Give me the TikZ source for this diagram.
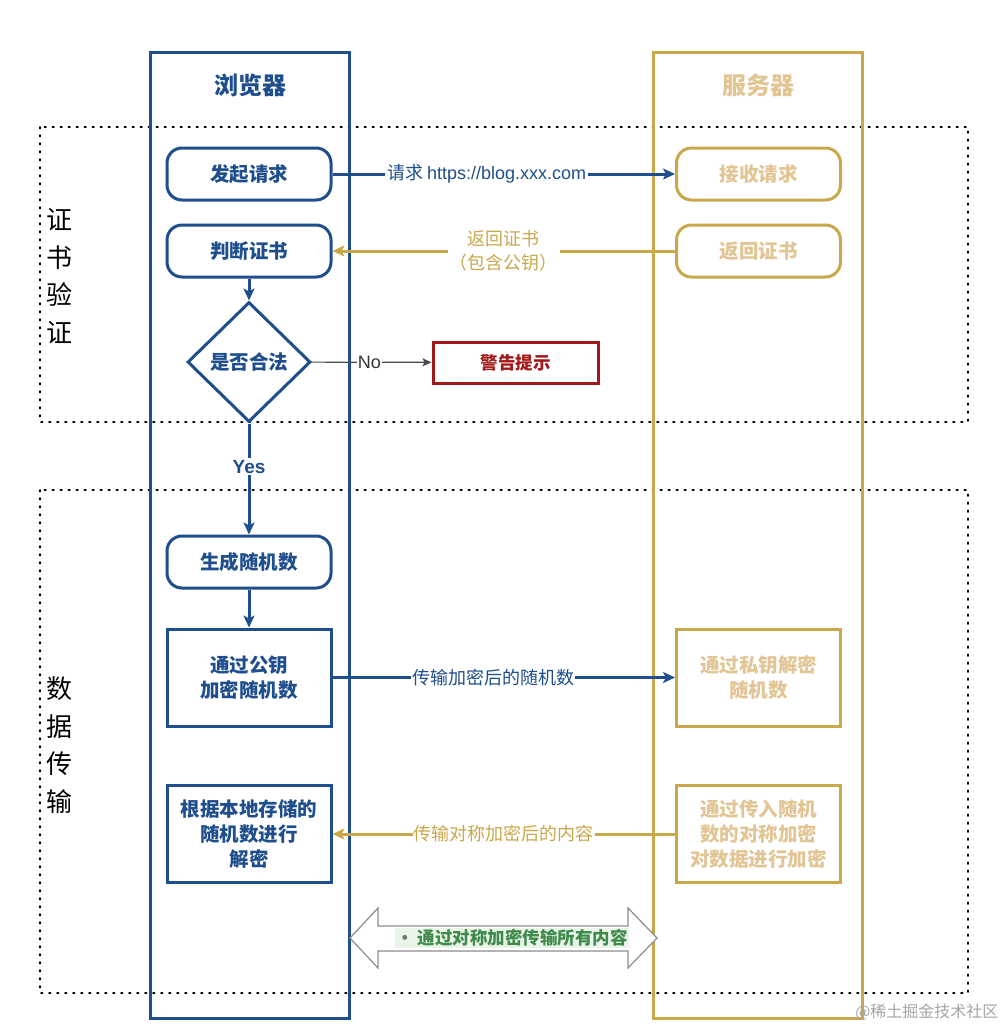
\documentclass[tikz,border=0pt]{standalone}
\usepackage{fontspec}
\setmainfont{Noto Sans CJK SC}
\newfontfamily\latfont{Liberation Sans}
\usetikzlibrary{arrows.meta,shapes.geometric}
\definecolor{bblue}{HTML}{1F4E8C}
\definecolor{sgold}{HTML}{C9A84C}
\definecolor{stext}{HTML}{E2C595}
\definecolor{wred}{HTML}{A31818}
\definecolor{ggreen}{HTML}{3F8A4A}
\definecolor{glight}{HTML}{E8F5E8}
\tikzset{
  lane/.style={line width=3pt},
  zone/.style={line width=1.7pt, dash pattern=on 1.6pt off 6.4pt, line cap=round},
  bstep/.style={draw=bblue, line width=3pt, text=bblue, minimum width=164pt, minimum height=52pt, align=center, font=\fontsize{19.5}{25}\selectfont\bfseries},
  sstep/.style={draw=sgold, line width=3pt, text=stext, minimum width=164pt, minimum height=52pt, align=center, font=\fontsize{19.5}{25}\selectfont\bfseries},
  pill/.style={rounded corners=15pt},
  bigbox/.style={minimum height=97pt},
  barrow/.style={draw=bblue, line width=3pt, -{Stealth[length=12pt,width=11pt,inset=3pt]}},
  garrow/.style={draw=sgold, line width=3pt, -{Stealth[length=12pt,width=11pt,inset=3pt]}},
  lbl/.style={fill=white, inner sep=2pt, font=\fontsize{18}{25}\selectfont},
  vlabel/.style={align=center, font=\fontsize{26}{37.5}\selectfont},
}
\begin{document}
\begin{tikzpicture}[x=1pt,y=-1pt]
\useasboundingbox[fill=white] (0,0) rectangle (1008,1029);
% zones
\draw[zone] (40,127) rectangle (968,422);
\draw[zone] (40,490) rectangle (968,993);
\node[vlabel] (zl1) at (59,276) {证\\书\\验\\证};
\node[vlabel] (zl2) at (59,745) {数\\据\\传\\输};
% lanes
\draw[lane, draw=bblue] (150,52) rectangle (349,1018);
\draw[lane, draw=sgold] (653,52) rectangle (862,1018);
\node[text=bblue, font=\fontsize{24}{28}\selectfont\bfseries] (tb) at (250,85) {浏览器};
\node[text=stext, font=\fontsize{24}{28}\selectfont\bfseries] (ts) at (758,85) {服务器};
% browser nodes
\node[bstep, pill] (req) at (249,174) {发起请求};
\node[bstep, pill] (chk) at (249,251) {判断证书};
\node[draw=bblue, line width=3pt, text=bblue, shape=diamond, minimum width=123pt, minimum height=120pt, inner sep=0pt, font=\fontsize{19.5}{25}\selectfont\bfseries] (legal) at (249,362) {是否合法};
\node[draw=wred, line width=3pt, text=wred, minimum width=165pt, minimum height=41pt, font=\fontsize{17.5}{22}\selectfont\bfseries] (warn) at (515.5,362.5) {警告提示};
\node[bstep, pill] (gen) at (249,562) {生成随机数};
\node[bstep, bigbox] (enc) at (249,677.5) {通过公钥\\加密随机数};
\node[bstep, bigbox] (dec) at (249,834) {根据本地存储的\\随机数进行\\解密};
% server nodes
\node[sstep, pill] (recv) at (758.5,174) {接收请求};
\node[sstep, pill] (ret) at (758.5,251) {返回证书};
\node[sstep, bigbox] (sdec) at (758.5,677.5) {通过私钥解密\\随机数};
\node[sstep, bigbox] (senc) at (758.5,834) {通过传入随机\\数的对称加密\\对数据进行加密};
% connectors
\draw[barrow] (req) -- node[lbl, text=bblue, pos=0.45] (l1) {请求 {\latfont https://blog.xxx.com}} (recv);
\draw[garrow] (ret) -- node[lbl, text=sgold, align=center, pos=0.5, font=\fontsize{18}{24}\selectfont] (l2) {返回证书\\（包含公钥）} (chk);
\draw[draw=bblue, line width=3pt, -{Stealth[length=12pt,width=11pt,inset=3pt]}] (chk) -- (legal);
\draw[draw=black!70, line width=1.2pt, -{Stealth[length=9pt,width=8pt,inset=2pt]}] (legal) -- node[lbl, text=black!80, pos=0.48, inner sep=1pt, font=\latfont\fontsize{18}{22}\selectfont] (lno) {No} (warn);
\draw[barrow] (legal) -- node[lbl, text=bblue, font=\latfont\fontsize{19}{22}\selectfont\bfseries, pos=0.39] (lyes) {Yes} (gen);
\draw[barrow] (gen) -- (enc);
\draw[barrow] (enc) -- node[lbl, text=bblue, pos=0.47, inner sep=1pt] (l3) {传输加密后的随机数} (sdec);
\draw[garrow] (senc) -- node[lbl, text=sgold, pos=0.5, inner sep=1pt] (l4) {传输对称加密后的内容} (dec);
% double arrow
\draw[draw=black!45, line width=1.2pt, fill=white] (350,938) -- (378,908) -- (378,926) -- (628,926) -- (628,908) -- (657,938) -- (628,968) -- (628,951) -- (378,951) -- (378,968) -- cycle;
\node[fill=glight, inner sep=1pt, text=ggreen, font=\fontsize{17.5}{20}\selectfont\bfseries] (all) at (512,938) {{\color{black!55}•} 通过对称加密传输所有内容};
% watermark
\node[text=black!35, font=\fontsize{16}{20}\selectfont, anchor=east] (wm) at (1002,1012) {@稀土掘金技术社区};
\end{tikzpicture}
\end{document}
